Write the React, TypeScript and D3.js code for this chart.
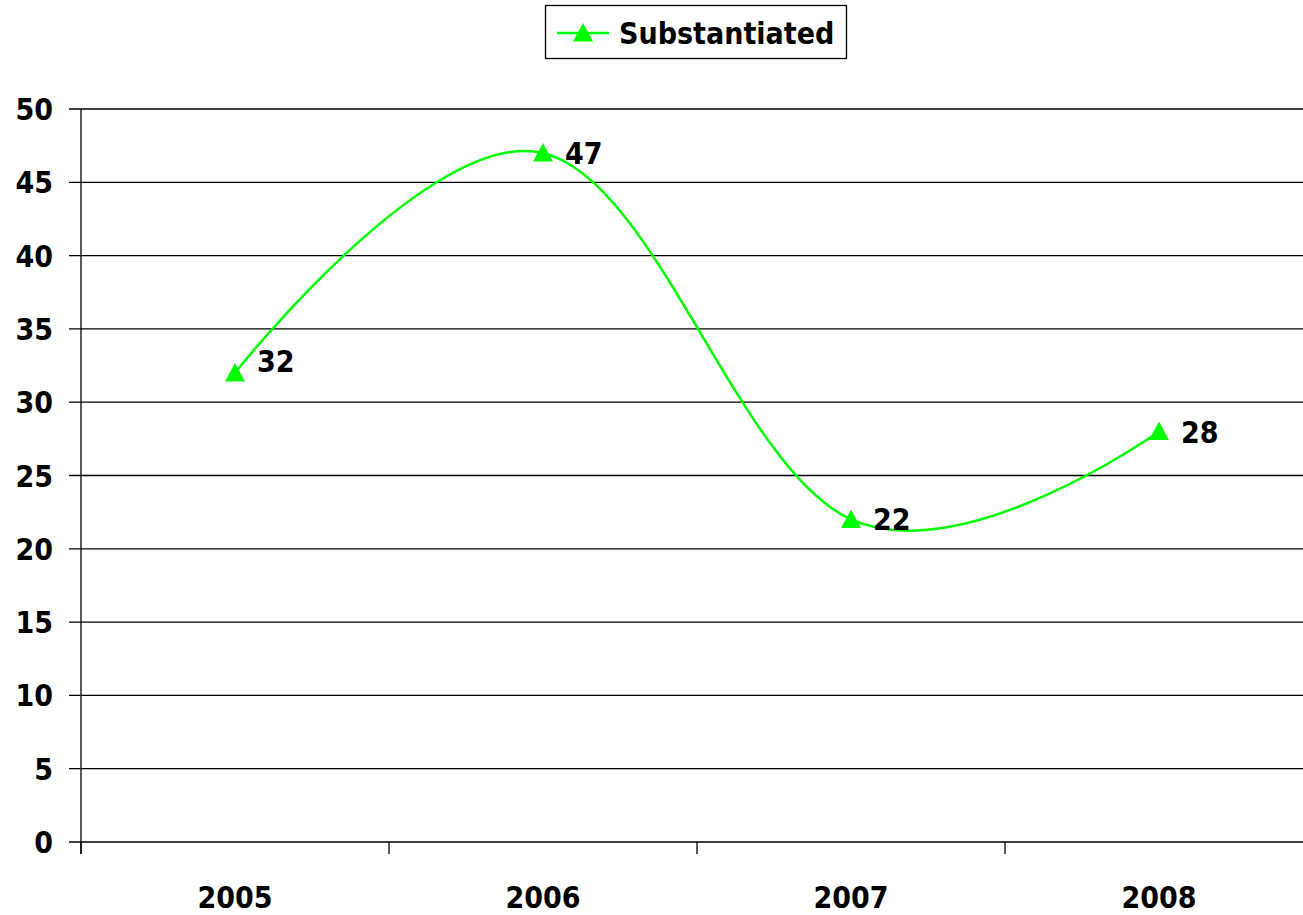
import React from "react";
import * as d3 from "d3";

const categories = ["2005", "2006", "2007", "2008"];
const substantiated = [32, 47, 22, 28];
const yTicks = [0, 5, 10, 15, 20, 25, 30, 35, 40, 45, 50];
const seriesName = "Substantiated";

const W = 1303, H = 915;
const left = 81, right = 1313, top = 109, bottom = 842;
const green = "#00ff00";
const font = "'DejaVu Sans Condensed', 'DejaVu Sans', Verdana, sans-serif";
const fs = 30;

export default function App() {
  const x = d3.scaleBand<string>().domain(categories).range([left, right]);
  const y = d3.scaleLinear().domain([0, 50]).range([bottom, top]);
  const cx = (c: string) => (x(c) as number) + x.bandwidth() / 2;
  const pts: [number, number][] = categories.map((c, i) => [cx(c), y(substantiated[i])]);
  const line = d3.line().curve(d3.curveCardinal.tension(-0.1))(pts) as string;
  const tri = (px: number, py: number, s = 10) =>
    `M${px},${py - s}L${px + s},${py + s * 0.85}L${px - s},${py + s * 0.85}Z`;
  const boundaries = categories.map((c) => x(c) as number);
  return (
    <svg width={W} height={H} style={{ position: "absolute", left: 0, top: 0, background: "#fff" }} fontFamily={font}>
      {yTicks.map((t) => (
        <g key={t}>
          <line x1={69} x2={right} y1={y(t)} y2={y(t)} stroke="#000" strokeWidth={1.3} />
          <text x={53} y={y(t) + 11} textAnchor="end" fontSize={fs} fontWeight="bold">{t}</text>
        </g>
      ))}
      <line x1={left} x2={left} y1={top} y2={bottom + 12} stroke="#000" strokeWidth={1.3} />
      {boundaries.map((b, i) => (
        <line key={i} x1={b} x2={b} y1={bottom} y2={bottom + 12} stroke="#000" strokeWidth={1.3} />
      ))}
      {categories.map((c) => (
        <text key={c} x={cx(c)} y={908} textAnchor="middle" fontSize={fs} fontWeight="bold">{c}</text>
      ))}
      <path d={line} fill="none" stroke={green} strokeWidth={2.5} />
      {pts.map(([px, py], i) => (
        <g key={i}>
          <path d={tri(px, py)} fill={green} />
          <text x={px + 22} y={py + 11 - (i === 0 ? 12 : 0)} fontSize={fs} fontWeight="bold">{substantiated[i]}</text>
        </g>
      ))}
      <rect x={545.5} y={5.5} width={301} height={53} fill="#fff" stroke="#000" strokeWidth={1.3} />
      <line x1={557} x2={609} y1={33} y2={33} stroke={green} strokeWidth={2.5} />
      <path d={tri(583, 33)} fill={green} />
      <text x={619} y={44} fontSize={fs} fontWeight="bold">{seriesName}</text>
    </svg>
  );
}
